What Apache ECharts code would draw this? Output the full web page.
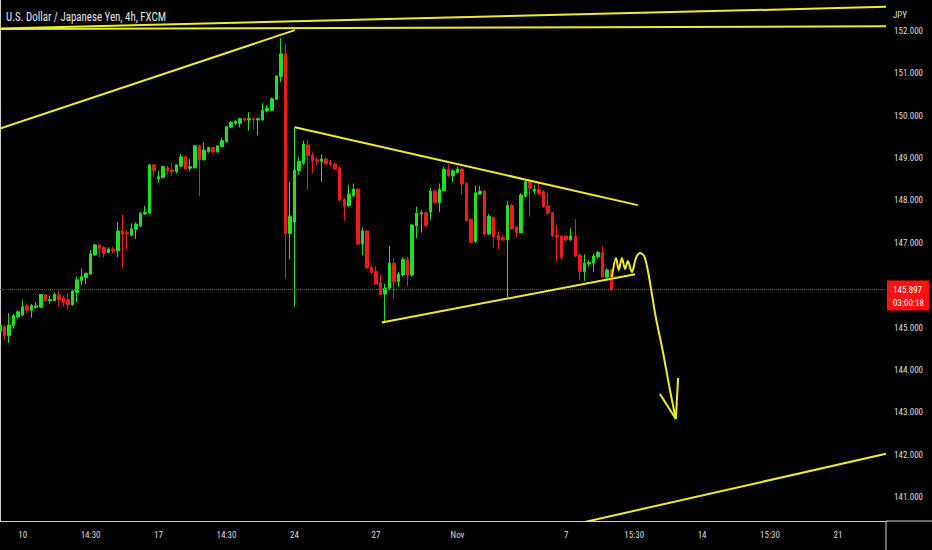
<!DOCTYPE html>
<html><head><meta charset="utf-8">
<script src="https://cdn.jsdelivr.net/npm/echarts@6/dist/echarts.min.js"></script>
<style>html,body{margin:0;padding:0;background:#000;}#c{width:932px;height:550px;}</style>
</head><body><div id="c"></div>
<script>
const chartTitle = 'U.S. Dollar / Japanese Yen, 4h, FXCM';
const currency = 'JPY';
const opens = [144.90,145.02,144.81,145.04,145.25,145.30,145.51,145.41,145.48,145.48,
145.77,145.63,145.63,145.77,145.70,145.66,145.54,145.83,146.11,146.18,
146.26,146.71,146.95,146.89,146.77,146.85,146.81,147.28,147.24,147.18,
147.32,147.40,147.68,147.70,148.84,148.51,148.54,148.77,148.72,148.68,
148.81,149.03,148.76,148.77,149.29,148.96,149.15,149.25,149.15,149.27,
149.39,149.73,149.82,149.82,149.94,149.90,149.93,149.90,149.90,150.11,
150.13,150.39,150.92,151.46,147.22,147.49,148.70,148.88,149.31,149.07,
148.96,148.92,148.98,148.90,148.86,148.77,148.03,147.88,148.11,148.27,
146.97,147.28,146.41,146.32,146.06,145.79,145.93,146.52,146.08,146.24,
146.61,146.24,147.40,147.68,147.71,147.73,148.22,147.95,148.23,148.74,
148.58,148.66,148.74,148.40,147.55,147.03,148.15,148.22,147.21,147.60,
147.17,147.12,147.07,147.88,147.37,147.24,148.10,148.44,148.22,148.26,
148.21,147.87,147.71,147.18,147.16,147.16,147.07,147.16,146.71,146.32,
146.50,146.52,146.67,146.77,146.19,146.36];
const closes = [145.06,144.81,145.06,145.28,145.37,145.49,145.41,145.52,145.51,145.78,
145.63,145.66,145.78,145.66,145.59,145.54,145.86,146.13,146.20,146.28,
146.74,146.95,146.87,146.75,146.85,146.81,147.28,147.20,147.21,147.33,
147.44,147.70,147.72,148.84,148.70,148.56,148.80,148.70,148.68,148.84,
149.03,148.74,148.80,149.29,148.96,149.19,149.25,149.15,149.29,149.41,
149.74,149.84,149.87,149.93,149.90,149.93,149.90,149.93,150.13,150.18,
150.40,150.94,151.46,147.22,147.63,148.72,148.92,149.33,149.06,148.94,
148.92,148.98,148.86,148.85,148.74,148.01,147.87,148.15,148.27,146.97,
147.28,146.41,146.30,146.03,145.78,145.93,146.52,146.08,146.26,146.61,
146.24,147.42,147.70,147.71,147.40,148.22,147.95,148.26,148.74,148.58,
148.70,148.74,148.39,147.52,147.00,148.18,148.22,147.21,147.62,147.14,
147.07,147.07,147.88,147.33,147.24,148.13,148.44,148.29,148.26,148.17,
147.86,147.70,147.16,147.13,146.65,147.07,147.16,146.69,146.32,146.52,
146.54,146.69,146.77,146.19,146.36,145.897];
const lows = [144.85,144.71,144.64,144.97,145.20,145.27,145.34,145.23,145.44,145.46,
145.61,145.56,145.62,145.49,145.49,145.43,145.52,145.60,146.00,146.03,
146.24,146.69,146.67,146.66,146.75,146.75,146.66,146.42,146.83,147.15,
147.09,147.37,147.66,147.68,148.56,148.42,148.52,148.60,148.58,148.64,
148.78,148.72,148.70,148.75,148.11,148.94,149.13,149.10,149.13,149.26,
149.36,149.70,149.78,149.72,149.86,149.65,149.68,149.54,149.88,150.08,
150.11,150.37,150.79,146.16,146.61,145.49,148.60,148.84,148.25,148.64,
148.84,148.44,148.84,148.80,148.72,147.97,147.52,147.85,148.08,146.95,
146.71,146.38,146.24,146.00,145.77,145.14,145.89,145.67,145.96,146.20,
145.98,146.20,147.11,147.24,147.37,147.54,147.92,147.73,148.21,148.55,
148.44,148.64,148.13,147.50,146.99,147.00,148.13,147.18,147.18,146.89,
146.85,147.04,145.72,147.30,147.13,147.22,148.07,147.62,148.15,148.13,
147.82,147.66,147.14,146.56,146.59,147.03,147.05,146.66,146.11,146.10,
146.44,146.32,146.63,146.16,146.15,145.87];
const highs = [145.11,145.06,145.34,145.32,145.41,145.65,145.56,145.56,145.60,145.79,
145.79,145.74,145.83,145.87,145.75,145.81,145.89,146.20,146.39,146.30,
146.83,146.97,146.97,146.92,146.89,146.91,147.49,147.66,147.30,147.46,
147.48,147.72,147.87,148.86,148.86,148.70,148.82,148.82,148.89,148.85,
149.10,149.06,148.98,149.31,149.31,149.37,149.27,149.27,149.31,149.49,
149.76,149.88,149.90,149.95,149.95,150.08,149.95,149.95,150.29,150.25,
150.43,150.96,151.83,151.69,148.44,149.74,149.03,149.41,149.44,149.13,
149.02,149.09,149.02,148.96,148.89,148.80,148.05,148.36,148.40,148.29,
147.36,147.30,146.46,146.44,146.26,146.03,146.92,146.64,146.32,146.66,
146.67,147.44,147.85,147.77,147.76,148.29,148.26,148.40,148.80,148.85,
148.74,148.80,148.76,148.43,147.58,148.35,148.34,148.25,147.68,147.62,
147.26,147.18,147.99,147.92,147.40,148.17,148.48,148.46,148.36,148.44,
148.25,148.18,147.73,147.42,147.18,147.18,147.34,147.56,146.75,146.73,
146.59,146.75,146.81,146.92,146.40,146.38];
const xLabelIdx = [5,20,35,50,65,83,101,125,140,155,170,185];
const xLabelText = ['10','14:30','17','14:30','24','27','Nov','7','15:30','14','15:30','21'];
const yTicks = [141,142,143,144,145,147,148,149,150,151,152];
const lastPrice = 145.897;
const countdown = '03:00:18';
// hand-drawn annotation lines, in [bar index, price]
const lineTopRising = [[0,152.06],[195.6,152.57]];
const lineTopFlat = [[0,152.05],[195.6,152.11]];
const lineRally = [[0,149.70],[65.1,152.02]];
const lineTriTop = [[65.1,149.73],[140.8,147.89]];
const lineTriBottom = [[84.3,145.12],[140.2,146.26]];
const lineLowRight = [[125,140.31],[195.6,142.02]];
const squiggle = [[135.1,146.19],[136.0,146.64],[136.6,146.36],[137.3,146.64],[138.0,146.38],[138.6,146.57],[139.5,146.31],[140.4,146.64],[141.3,146.76],[142.2,146.69],[143.0,146.36],[143.7,145.93],[144.8,145.23],[146.4,144.40],[147.7,143.64],[148.6,143.15],[149.2,142.84]];
const arrowLeft = [[145.7,143.43],[149.2,142.84]];
const arrowRight = [[149.7,143.81],[149.2,142.84]];

// pick the narrowest installed sans family for the condensed TradingView look
function hasFont(f) {
  const c = document.createElement('canvas').getContext('2d');
  const s = 'abcdefghijklmnopqrstuvwxyz0123456789ABCDEF';
  c.font = '30px monospace'; const a = c.measureText(s).width;
  c.font = '30px serif'; const a2 = c.measureText(s).width;
  c.font = "30px '" + f + "', monospace"; const b = c.measureText(s).width;
  c.font = "30px '" + f + "', serif"; const b2 = c.measureText(s).width;
  return Math.abs(b - b2) < 0.01 && (Math.abs(b - a) > 0.01 || Math.abs(b2 - a2) > 0.01);
}
const fontCands = ['Liberation Sans Narrow', 'Noto Sans Condensed', 'Roboto Condensed', 'Open Sans Condensed', 'Noto Sans SemiCondensed', 'DejaVu Sans Condensed', 'Liberation Sans'];
let FAM = 'sans-serif';
for (const f of fontCands) { if (hasFont(f)) { FAM = "'" + f + "'"; break; } }
function textW(str, px) {
  const c = document.createElement('canvas').getContext('2d');
  c.font = px + 'px ' + FAM; return c.measureText(str).width;
}
const labelPx = Math.max(9, Math.min(10.5, 10 * 29 / textW('152.000', 10)));
const titleScale = Math.max(0.75, Math.min(1, 160 / textW(chartTitle, 12)));

const UP = '#1fe21f', DOWN = '#f01a1a', YEL = '#ecec30', AX = '#cfcfcf', TXT = '#dcdcdc';
const candleData = opens.map((o, i) => [i, o, closes[i], lows[i], highs[i]]);

function yLine(data, smooth) {
  return { type: 'line', data: data, symbol: 'none', smooth: smooth || false, silent: true,
    lineStyle: { color: YEL, width: 2 }, z: 5 };
}

const chart = echarts.init(document.getElementById('c'), null, { renderer: 'svg' });
chart.setOption({
  backgroundColor: '#000',
  animation: false,
  grid: { left: 0, right: 46, top: 0, bottom: 29 },
  xAxis: {
    type: 'value', min: 0, max: 195.6,
    axisLine: { show: true, lineStyle: { color: AX, width: 1 } },
    axisTick: { show: false }, splitLine: { show: false },
    axisLabel: { customValues: xLabelIdx, color: TXT, fontSize: labelPx, fontFamily: FAM, margin: 9,
      formatter: v => { const k = xLabelIdx.indexOf(Math.round(v)); return k < 0 ? '' : xLabelText[k]; } }
  },
  yAxis: {
    type: 'value', position: 'right', min: 140.433, max: 152.732, scale: true,
    axisLine: { show: true, lineStyle: { color: AX, width: 1 } },
    axisTick: { show: false }, splitLine: { show: false },
    axisLabel: { customValues: yTicks, color: TXT, fontSize: labelPx, fontFamily: FAM, margin: 8,
      formatter: v => v.toFixed(3) }
  },
  series: [
    { type: 'candlestick', data: candleData, encode: { x: 0, y: [1, 2, 3, 4] },
      barWidth: 3, silent: true,
      itemStyle: { color: UP, color0: DOWN, borderColor: UP, borderColor0: DOWN, borderWidth: 1 },
      markLine: { silent: true, symbol: ['none', 'none'], label: { show: false },
        lineStyle: { type: 'dotted', color: '#c22a2a', width: 1 }, data: [{ yAxis: lastPrice }] } },
    yLine(lineTopRising), yLine(lineTopFlat), yLine(lineRally), yLine(lineTriTop),
    yLine(lineTriBottom), yLine(lineLowRight), yLine(squiggle, 0.3), yLine(arrowLeft), yLine(arrowRight)
  ]
});

const py = chart.convertToPixel({ yAxisIndex: 0 }, lastPrice);
const axX = chart.convertToPixel({ xAxisIndex: 0 }, 195.6);
const axY = chart.convertToPixel({ yAxisIndex: 0 }, 140.433);
chart.setOption({
  graphic: [
    { type: 'text', x: 6, y: 11, scaleX: titleScale,
      style: { text: chartTitle, fill: '#e6e6e6', font: '12px ' + FAM }, silent: true },
    { type: 'line', shape: { x1: axX, y1: axY, x2: axX, y2: 550 }, style: { stroke: AX, lineWidth: 1 }, silent: true },
    { type: 'line', shape: { x1: axX, y1: axY, x2: 932, y2: axY }, style: { stroke: AX, lineWidth: 1 }, silent: true },
    { type: 'text', x: axX + 7, y: 10, style: { text: currency, fill: TXT, font: '9px ' + FAM }, silent: true },
    { type: 'rect', shape: { x: axX + 1, y: py - 9, width: 42, height: 30 }, style: { fill: '#ff1010' }, z: 10, silent: true },
    { type: 'text', x: axX + 7, y: py, style: { text: lastPrice.toFixed(3), fill: '#fff', font: labelPx + 'px ' + FAM, verticalAlign: 'middle' }, z: 11, silent: true },
    { type: 'text', x: axX + 7, y: py + 13.5, style: { text: countdown, fill: '#fff', font: labelPx + 'px ' + FAM, verticalAlign: 'middle' }, z: 11, silent: true }
  ]
});
</script></body></html>
